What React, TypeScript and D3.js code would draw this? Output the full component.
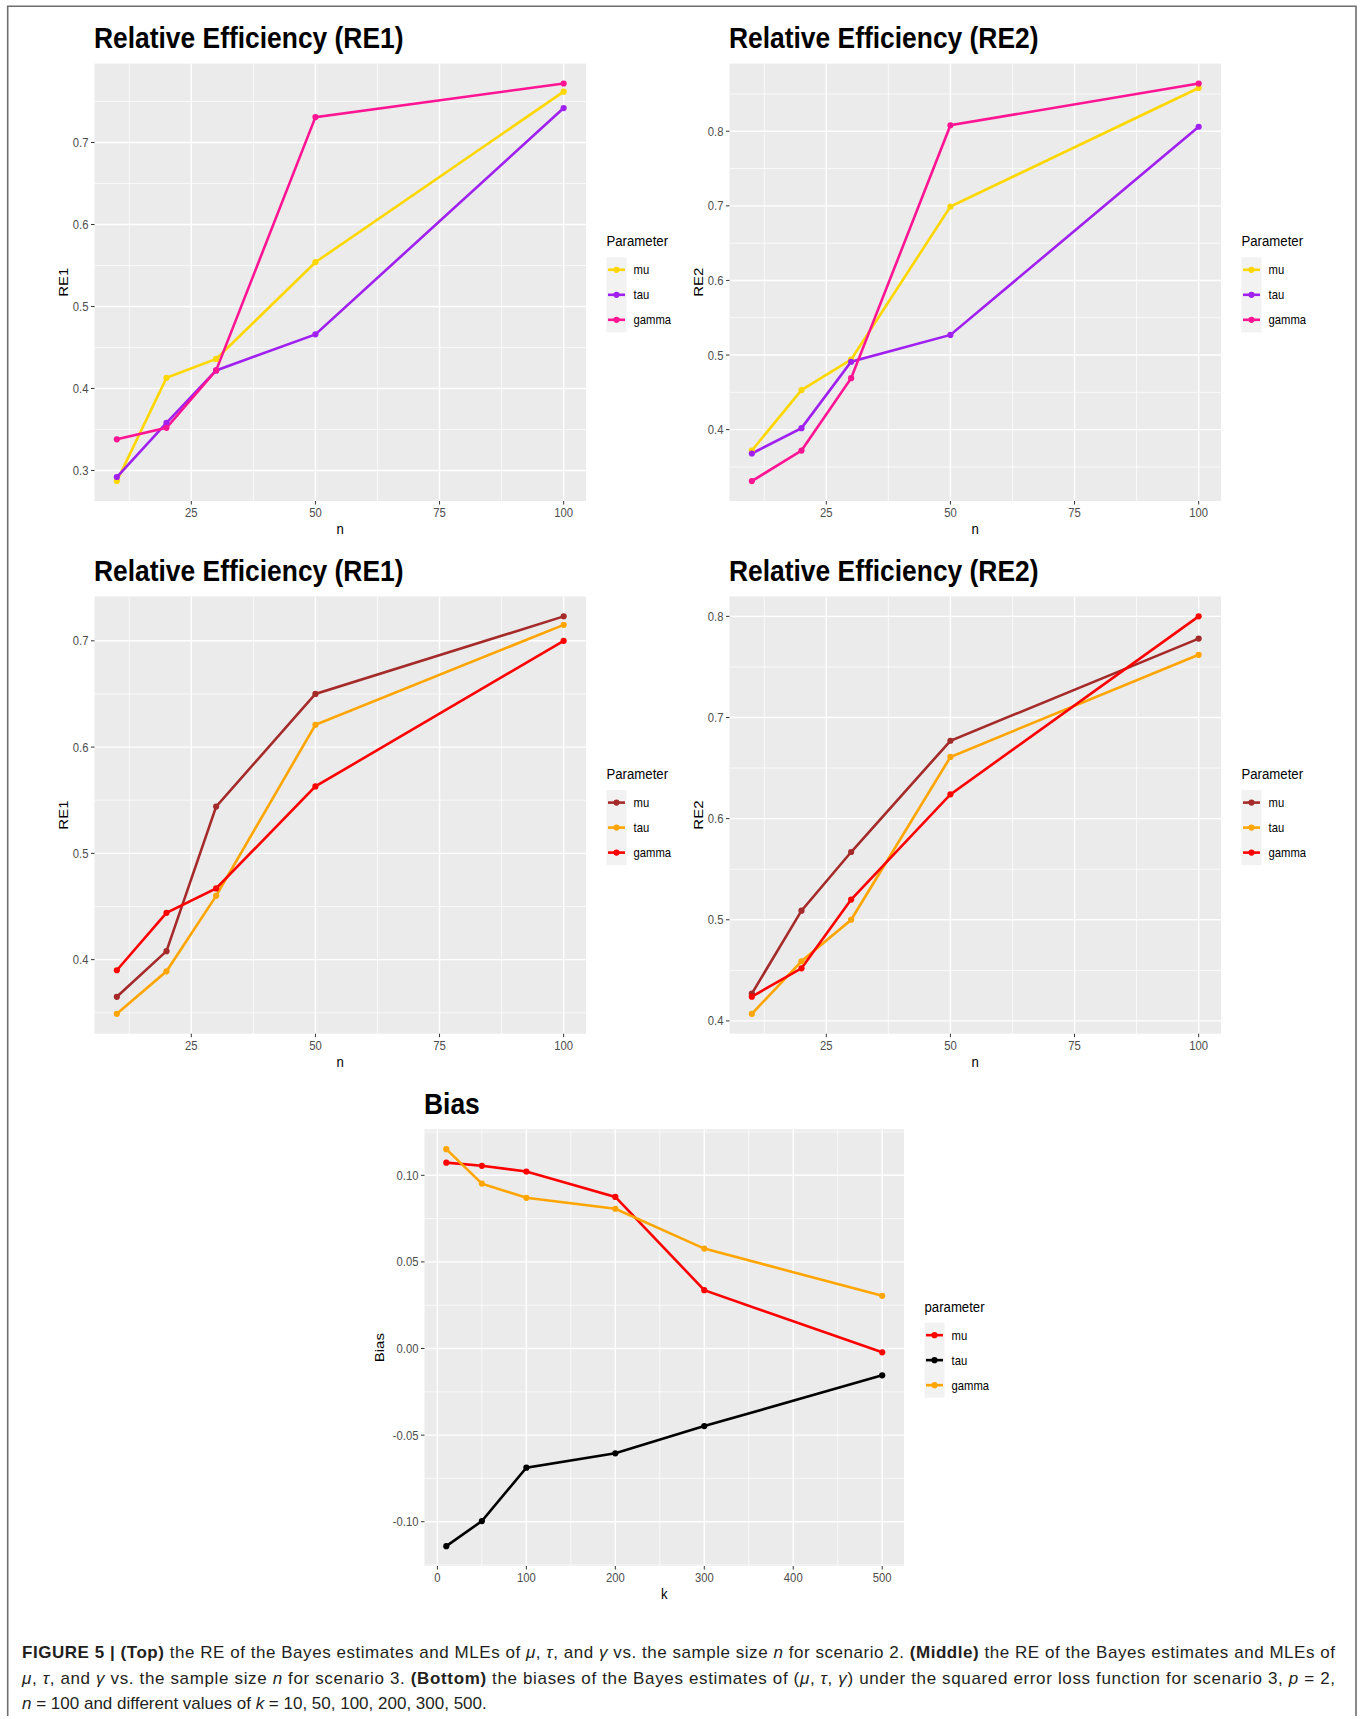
import React, { useEffect, useRef } from 'react';
import * as d3 from 'd3';

// x values
const nValues = [10, 20, 30, 50, 100];
const nTicks = [25, 50, 75, 100];
const kValues = [10, 50, 100, 200, 300, 500];
const kTicks = [0, 100, 200, 300, 400, 500];
const paramNames = ['mu', 'tau', 'gamma'];

// scenario 2 (top row)
const re1S2Mu = [0.287, 0.413, 0.436, 0.554, 0.762];
const re1S2Tau = [0.292, 0.358, 0.422, 0.466, 0.742];
const re1S2Gamma = [0.338, 0.352, 0.422, 0.731, 0.772];
const re1S2Ticks = [0.3, 0.4, 0.5, 0.6, 0.7];

const re2S2Mu = [0.372, 0.453, 0.494, 0.699, 0.858];
const re2S2Tau = [0.368, 0.402, 0.491, 0.527, 0.806];
const re2S2Gamma = [0.331, 0.372, 0.469, 0.808, 0.864];
const re2S2Ticks = [0.4, 0.5, 0.6, 0.7, 0.8];

// scenario 3 (middle row)
const re1S3Mu = [0.365, 0.408, 0.544, 0.65, 0.723];
const re1S3Tau = [0.349, 0.389, 0.46, 0.621, 0.715];
const re1S3Gamma = [0.39, 0.444, 0.467, 0.563, 0.7];
const re1S3Ticks = [0.4, 0.5, 0.6, 0.7];

const re2S3Mu = [0.427, 0.509, 0.567, 0.677, 0.778];
const re2S3Tau = [0.407, 0.459, 0.5, 0.661, 0.762];
const re2S3Gamma = [0.424, 0.452, 0.52, 0.624, 0.8];
const re2S3Ticks = [0.4, 0.5, 0.6, 0.7, 0.8];

// bias vs k (bottom)
const biasMu = [0.1073, 0.1055, 0.1022, 0.0875, 0.0337, -0.0022];
const biasTau = [-0.1141, -0.0996, -0.0688, -0.0605, -0.0448, -0.0155];
const biasGamma = [0.1151, 0.0952, 0.087, 0.0807, 0.0577, 0.0304];
const biasTicks = [-0.1, -0.05, 0, 0.05, 0.1];

const colorsS2 = ['#FFD700', '#A020F0', '#FF1493'];
const colorsS3 = ['#A52A2A', '#FFA500', '#FF0000'];
const colorsBias = ['#FF0000', '#000000', '#FFA500'];

const FONT = '"Liberation Sans", Arial, sans-serif';
const SQ = 0.88; // the figure is squeezed horizontally

const panels = [
  { title: 'Relative Efficiency (RE1)', yLabel: 'RE1', xLabel: 'n', legend: 'Parameter', xs: nValues, series: [re1S2Mu, re1S2Tau, re1S2Gamma], colors: colorsS2, xTicks: nTicks, yTicks: re1S2Ticks, yFmt: '.1f', left: 94.5, top: 63.6, width: 491.5, height: 437.4 },
  { title: 'Relative Efficiency (RE2)', yLabel: 'RE2', xLabel: 'n', legend: 'Parameter', xs: nValues, series: [re2S2Mu, re2S2Tau, re2S2Gamma], colors: colorsS2, xTicks: nTicks, yTicks: re2S2Ticks, yFmt: '.1f', left: 729.5, top: 63.6, width: 491.5, height: 437.4 },
  { title: 'Relative Efficiency (RE1)', yLabel: 'RE1', xLabel: 'n', legend: 'Parameter', xs: nValues, series: [re1S3Mu, re1S3Tau, re1S3Gamma], colors: colorsS3, xTicks: nTicks, yTicks: re1S3Ticks, yFmt: '.1f', left: 94.5, top: 596.5, width: 491.5, height: 437.2 },
  { title: 'Relative Efficiency (RE2)', yLabel: 'RE2', xLabel: 'n', legend: 'Parameter', xs: nValues, series: [re2S3Mu, re2S3Tau, re2S3Gamma], colors: colorsS3, xTicks: nTicks, yTicks: re2S3Ticks, yFmt: '.1f', left: 729.5, top: 596.5, width: 491.5, height: 437.2 },
  { title: 'Bias', yLabel: 'Bias', xLabel: 'k', legend: 'parameter', xs: kValues, series: [biasMu, biasTau, biasGamma], colors: colorsBias, xTicks: kTicks, yTicks: biasTicks, yFmt: '.2f', left: 424.5, top: 1129.3, width: 479.5, height: 436.7 },
];

// caption, one array per line: [text, style]
const captionLine1 = [
  ['FIGURE 5 | (Top)', 'b'], [' the RE of the Bayes estimates and MLEs of ', ''], ['μ', 'i'], [', ', ''], ['τ', 'i'], [', and ', ''], ['γ', 'i'],
  [' vs. the sample size ', ''], ['n', 'i'], [' for scenario 2. ', ''], ['(Middle)', 'b'], [' the RE of the Bayes estimates and MLEs of', ''],
];
const captionLine2 = [
  ['μ', 'i'], [', ', ''], ['τ', 'i'], [', and ', ''], ['γ', 'i'], [' vs. the sample size ', ''], ['n', 'i'], [' for scenario 3. ', ''],
  ['(Bottom)', 'b'], [' the biases of the Bayes estimates of (', ''], ['μ', 'i'], [', ', ''], ['τ', 'i'], [', ', ''], ['γ', 'i'],
  [') under the squared error loss function for scenario 3, ', ''], ['p', 'i'], [' = 2,', ''],
];
const captionLine3 = [
  ['n', 'i'], [' = 100 and different values of ', ''], ['k', 'i'], [' = 10, 50, 100, 200, 300, 500.', ''],
];

function sqText(parent, x, y, str, size, opts: any = {}) {
  return parent.append('text')
    .attr('transform', `translate(${x},${y}) scale(${SQ},1)${opts.rotate ? ' rotate(-90)' : ''}`)
    .attr('text-anchor', opts.anchor || 'start')
    .attr('fill', opts.fill || '#000')
    .style('font-family', FONT)
    .style('font-size', `${size}px`)
    .style('font-weight', opts.bold ? 'bold' : 'normal')
    .text(str);
}

function minorBreaks(ticks, domain) {
  const step = ticks[1] - ticks[0];
  const ext = [ticks[0] - step, ...ticks, ticks[ticks.length - 1] + step];
  return ext.slice(1).map((t, i) => (t + ext[i]) / 2).filter(v => v >= domain[0] && v <= domain[1]);
}

function drawPanel(svg, p) {
  const g = svg.append('g').attr('transform', `translate(${p.left},${p.top})`);
  const all = p.series.flat();
  const [ymin, ymax] = d3.extent(all);
  const ypad = (ymax - ymin) * 0.05;
  const [xmin, xmax] = d3.extent(p.xs);
  const xpad = (xmax - xmin) * 0.05;
  const x = d3.scaleLinear().domain([xmin - xpad, xmax + xpad]).range([0, p.width]);
  const y = d3.scaleLinear().domain([ymin - ypad, ymax + ypad]).range([p.height, 0]);

  g.append('rect').attr('width', p.width).attr('height', p.height).attr('fill', '#EBEBEB');

  // grid
  minorBreaks(p.xTicks, x.domain()).forEach(v => {
    g.append('line').attr('x1', x(v)).attr('x2', x(v)).attr('y1', 0).attr('y2', p.height).attr('stroke', '#fff').attr('stroke-width', 0.7);
  });
  minorBreaks(p.yTicks, y.domain()).forEach(v => {
    g.append('line').attr('y1', y(v)).attr('y2', y(v)).attr('x1', 0).attr('x2', p.width).attr('stroke', '#fff').attr('stroke-width', 0.7);
  });
  p.xTicks.forEach(v => {
    g.append('line').attr('x1', x(v)).attr('x2', x(v)).attr('y1', 0).attr('y2', p.height).attr('stroke', '#fff').attr('stroke-width', 1.4);
  });
  p.yTicks.forEach(v => {
    g.append('line').attr('y1', y(v)).attr('y2', y(v)).attr('x1', 0).attr('x2', p.width).attr('stroke', '#fff').attr('stroke-width', 1.4);
  });

  // axes ticks + labels
  const fmt = d3.format(p.yFmt);
  p.yTicks.forEach(v => {
    g.append('line').attr('x1', -3.5).attr('x2', 0).attr('y1', y(v)).attr('y2', y(v)).attr('stroke', '#333').attr('stroke-width', 1);
    sqText(g, -6, y(v) + 4.5, fmt(v).replace('−', '-'), 12.8, { anchor: 'end', fill: '#4D4D4D' });
  });
  p.xTicks.forEach(v => {
    g.append('line').attr('x1', x(v)).attr('x2', x(v)).attr('y1', p.height).attr('y2', p.height + 3.5).attr('stroke', '#333').attr('stroke-width', 1);
    sqText(g, x(v), p.height + 16, String(v), 12.8, { anchor: 'middle', fill: '#4D4D4D' });
  });

  // titles
  sqText(g, -0.5, -15.5, p.title, 30, { bold: true });
  sqText(g, p.width / 2, p.height + 33, p.xLabel, 15, { anchor: 'middle' });
  const ylx = p.yLabel === 'Bias' ? -41 : -27;
  sqText(g, ylx, p.height / 2, p.yLabel, 15, { anchor: 'middle', rotate: true });

  // lines and points
  const line = d3.line().x((d, i) => x(p.xs[i])).y(d => y(d));
  p.series.forEach((s, si) => {
    g.append('path').datum(s).attr('fill', 'none').attr('stroke', p.colors[si]).attr('stroke-width', 2.6).attr('d', line);
  });
  p.series.forEach((s, si) => {
    s.forEach((v, i) => {
      g.append('circle').attr('cx', x(p.xs[i])).attr('cy', y(v)).attr('r', 3.1).attr('fill', p.colors[si]);
    });
  });

  // legend
  const lx = p.width + 20.5;
  const cy = p.height / 2;
  sqText(g, lx, cy - 36, p.legend, 15);
  const keyY = [-12.5, 12.5, 37.5].map(d => cy + d);
  g.append('rect').attr('x', lx).attr('y', keyY[0] - 12.5).attr('width', 20).attr('height', 75).attr('fill', '#F2F2F2');
  paramNames.forEach((name, i) => {
    g.append('line').attr('x1', lx + 1.5).attr('x2', lx + 18.5).attr('y1', keyY[i]).attr('y2', keyY[i]).attr('stroke', p.colors[i]).attr('stroke-width', 2.6);
    g.append('circle').attr('cx', lx + 10).attr('cy', keyY[i]).attr('r', 3.1).attr('fill', p.colors[i]);
    sqText(g, lx + 27, keyY[i] + 4.5, name, 12.8);
  });
}

function drawCaption(svg) {
  const lines = [
    { parts: captionLine1, y: 1658, justify: true },
    { parts: captionLine2, y: 1683.5, justify: true },
    { parts: captionLine3, y: 1708.5, justify: false },
  ];
  lines.forEach(l => {
    const t = svg.append('text').attr('x', 22).attr('y', l.y).attr('fill', '#231F20')
      .style('font-family', FONT).style('font-size', '17px');
    if (l.justify) t.attr('textLength', 1313).attr('lengthAdjust', 'spacing');
    l.parts.forEach(([str, st]) => {
      const ts = t.append('tspan').text(str);
      if (st === 'b') ts.style('font-weight', 'bold');
      if (st === 'i') ts.style('font-style', 'italic');
    });
  });
}

export default function App() {
  const svgRef = useRef(null);

  useEffect(() => {
    const svg = d3.select(svgRef.current);
    svg.selectAll('*').remove();
    svg.append('rect').attr('width', 1363).attr('height', 1719).attr('fill', '#fff');

    // frame
    svg.append('path').attr('d', 'M7.7,1716 V6.3 H1356 V1716').attr('fill', 'none').attr('stroke', '#6E6E6E').attr('stroke-width', 1.6);

    panels.forEach(p => drawPanel(svg, p));
    drawCaption(svg);
  }, []);

  return (
    <svg ref={svgRef} width={1363} height={1719} style={{ position: 'absolute', left: 0, top: 0 }} />
  );
}
